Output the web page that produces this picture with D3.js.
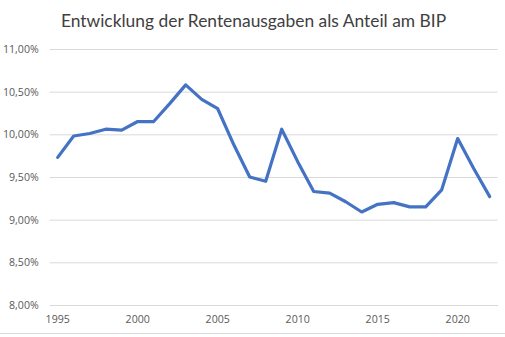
<!DOCTYPE html>
<html>
<head>
<meta charset="utf-8">
<script src="https://cdn.jsdelivr.net/npm/d3@7"></script>
<style>
  html, body { margin: 0; padding: 0; background: #fff; }
  svg { display: block; }
</style>
</head>
<body>
<svg id="chart" width="505" height="337"></svg>
<script>
// Pension expenditure as a share of GDP, 1995–2022 (percent)
const years = d3.range(1995, 2023);
const shares = [
  9.73, 9.98, 10.01, 10.06, 10.05, 10.15, 10.15, 10.36, 10.58, 10.41,
  10.30, 9.88, 9.50, 9.45, 10.06, 9.68, 9.33, 9.31, 9.21, 9.09,
  9.18, 9.20, 9.15, 9.15, 9.35, 9.95, 9.60, 9.27
];
const yTicks = [8.0, 8.5, 9.0, 9.5, 10.0, 10.5, 11.0];
const xTickYears = [1995, 2000, 2005, 2010, 2015, 2020];
const title = "Entwicklung der Rentenausgaben als Anteil am BIP";

const svg = d3.select("#chart");
const W = 505, H = 337;
const plot = { left: 49.7, right: 497.7, top: 49, bottom: 305 };

const x = d3.scaleBand()
  .domain(years)
  .range([plot.left, plot.right]);

const y = d3.scaleLinear()
  .domain([8, 11])
  .range([plot.bottom, plot.top]);

const fmt = v => d3.format(".2f")(v).replace(".", ",") + "%";

// chart title
svg.append("text")
  .attr("x", 253.5)
  .attr("y", 27)
  .attr("text-anchor", "middle")
  .attr("fill", "#404040")
  .style("font-family", "Lato, 'Open Sans', sans-serif")
  .style("font-size", "17.4px")
  .text(title);

// horizontal gridlines
const yAxis = d3.axisLeft(y)
  .tickValues(yTicks)
  .tickSize(-(plot.right - plot.left))
  .tickPadding(11)
  .tickFormat(fmt);

const gy = svg.append("g")
  .attr("transform", `translate(${plot.left},0)`)
  .call(yAxis);
gy.select(".domain").remove();
gy.selectAll(".tick line").attr("stroke", "#d9d9d9").attr("stroke-width", 1);
gy.selectAll(".tick text")
  .attr("fill", "#595959")
  .style("font-family", "'Open Sans', 'Noto Sans', sans-serif")
  .style("font-size", "10.6px");

// category axis with labels every five years
const xAxis = d3.axisBottom(x)
  .tickValues(xTickYears)
  .tickSize(0)
  .tickPadding(10);

const gx = svg.append("g")
  .attr("transform", `translate(0,${plot.bottom})`)
  .call(xAxis);
gx.select(".domain").attr("stroke", "#d9d9d9");
gx.selectAll(".tick text")
  .attr("fill", "#595959")
  .style("font-family", "'Open Sans', 'Noto Sans', sans-serif")
  .style("font-size", "10.6px");

// data line
const line = d3.line()
  .x((d, i) => x(years[i]) + x.bandwidth() / 2)
  .y(d => y(d));

svg.append("path")
  .datum(shares)
  .attr("fill", "none")
  .attr("stroke", "#4472c4")
  .attr("stroke-width", 3.2)
  .attr("stroke-linejoin", "round")
  .attr("stroke-linecap", "round")
  .attr("d", line);

// chart area border at the bottom edge
svg.append("line")
  .attr("x1", 0).attr("x2", W)
  .attr("y1", 333.5).attr("y2", 333.5)
  .attr("stroke", "#d9d9d9")
  .attr("stroke-width", 1);
</script>
</body>
</html>
